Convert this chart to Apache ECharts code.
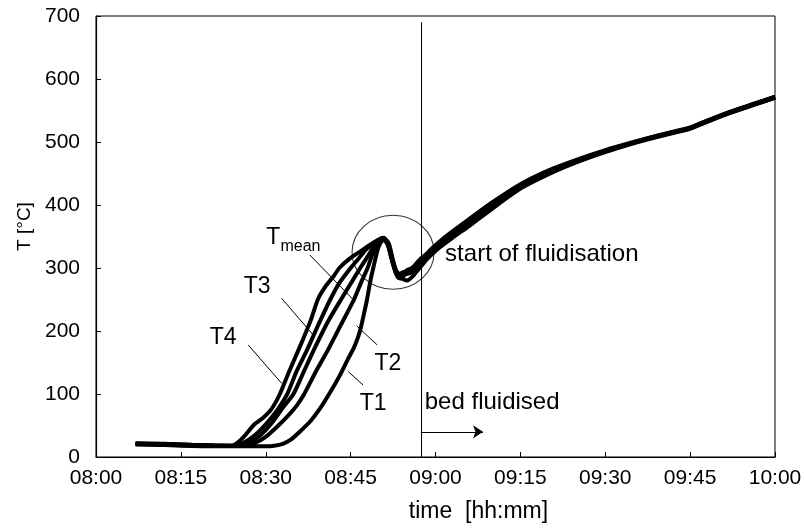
<!DOCTYPE html>
<html>
<head>
<meta charset="utf-8">
<script src="https://cdn.jsdelivr.net/npm/echarts@6/dist/echarts.min.js"></script>
<style>
  html, body { margin: 0; padding: 0; background: #fff; }
  #chart { width: 806px; height: 530px; }
</style>
</head>
<body>
<div id="chart"></div>
<script>
// Bed temperature during heat-up; x values are minutes after 08:00, y values in °C.
const timeLabels = ['08:00', '08:15', '08:30', '08:45', '09:00', '09:15', '09:30', '09:45', '10:00'];

const sensorT4 = [[7,22],[12,21],[17,19.5],[21,18.5],[24,18],[25.2,24],[26.5,36],[28,52],[29.5,62],[31,76],[32.5,100],[34,133],[35.3,160],[36.5,185],[38,218],[39.2,250],[40.5,270],[42,287],[43,300],[45,316],[47,328],[49,340],[50.5,347],[51.5,338],[52.3,312],[53,292],[53.8,283],[54.7,290],[55.6,293],[56.5,302],[57.5,312],[59,328],[61,344],[63,358],[66,378],[70,404],[75,433],[80,455],[85,472],[90,487],[95,500],[100,512],[105,523],[108,534],[112,548],[116,560],[120,572]];
const sensorT3 = [[7,21],[12,20.5],[17,19],[21,18],[24.5,18],[26,22],[28,34],[30,52],[32,74],[33.8,100],[35.5,137],[37.3,170],[39.3,210],[41.4,250],[43,276],[45,300],[46.5,316],[47.8,330],[49.5,342],[50.7,348],[51.5,340],[52.2,318],[53,296],[54,288],[55,297],[56,300],[57,308],[58,318],[60,334],[62,349],[66,375],[70,401],[75,431],[80,453],[85,471],[90,486],[95,499.5],[100,511.5],[105,522.5],[108,533.5],[112,547.5],[116,559.5],[120,571.5]];
const sensorTmean = [[7,21],[12,20],[17,18.5],[21,18],[25.5,18],[27,22],[29,34],[31,53],[33,78],[34.9,100],[36.7,135],[38.5,170],[41,215],[43.3,250],[45,275],[46.7,300],[48,318],[48.8,330],[50,343],[50.9,348],[51.6,338],[52.4,310],[53.3,288],[54.2,293],[55.2,296],[56.2,303],[57.3,314],[59,326],[61,341],[63,354],[66,373],[70,399],[75,430],[80,452],[85,470],[90,486],[95,499],[100,511],[105,522],[108,533],[112,547],[116,559],[120,571]];
const sensorT2 = [[7,20.5],[12,19.5],[17,18],[21,17.5],[26,18],[28,22],[30,32],[32,48],[34,66],[35.5,82],[36.8,100],[39,138],[41,170],[43.3,210],[45.6,250],[46.9,278],[48,300],[48.7,318],[49.3,330],[50.2,342],[51,346],[51.8,335],[52.6,305],[53.4,284],[54.5,290],[55.5,292],[56.5,300],[57.5,310],[59,322],[61,336],[63,350],[66,369],[70,396],[75,427],[80,450],[85,469],[90,485],[95,498.5],[100,510.5],[105,521.5],[108,532.5],[112,546.5],[116,558.5],[120,570.5]];
const sensorT1 = [[7,20],[12,19],[17,17.5],[21,17],[26,17],[30,17],[31.5,18],[33,21],[34.5,28],[36,40],[38,58],[39.6,77],[41.2,100],[43,128],[44.5,155],[45.5,172],[46.3,190],[46.8,205],[47.3,225],[47.9,250],[48.5,280],[49,300],[49.8,330],[50.5,343],[51.2,345],[51.8,338],[52.5,312],[53.2,292],[53.8,285],[55,280],[56,287],[57.2,300],[58.5,314],[60.5,331],[63,348],[66,367],[70,394],[75,426],[80,449],[85,468],[90,484],[95,498],[100,510],[105,521],[108,532],[112,546],[116,558],[120,570]];

// Moment the bed became fluidised (minutes after 08:00) and the marked region.
const fluidisationMinute = 57.4;
const fluidLineTop = 690;
const arrowSpan = [[57.4, 40], [68.4, 40]];
const circleCentre = [52.5, 325];

// Leader lines from each sensor label to its curve.
const leaderLines = [
  [[26.9, 177.8], [32.8, 117]],
  [[32.8, 251.9], [38.4, 193.7]],
  [[37.8, 320.6], [45.8, 246.5]],
  [[46.1, 207.9], [49.7, 177.8]],
  [[44.6, 135.4], [47.2, 114.3]]
];

// Text anchors (left edge, vertical middle) in data coordinates.
const textAnchors = [
  { text: 'T4', at: [20.1, 189], size: 23 },
  { text: 'T3', at: [26.1, 270.6], size: 23 },
  { text: 'T', at: [30.1, 347.6], size: 23 },
  { text: 'mean', at: [32.6, 333.8], size: 16 },
  { text: 'T2', at: [49.2, 148.7], size: 23 },
  { text: 'T1', at: [46.6, 84], size: 23 },
  { text: 'start of fluidisation', at: [61.7, 321.4], size: 24 },
  { text: 'bed fluidised', at: [58.1, 87.3], size: 24 }
];

const FONT = '"Liberation Sans", Arial, Helvetica, sans-serif';
const sensors = [
  { name: 'T4', data: sensorT4 },
  { name: 'T3', data: sensorT3 },
  { name: 'Tmean', data: sensorTmean },
  { name: 'T2', data: sensorT2 },
  { name: 'T1', data: sensorT1 }
];

const chart = echarts.init(document.getElementById('chart'), null, { renderer: 'canvas' });

const lineSeries = sensors.map(s => ({
  name: s.name,
  type: 'line',
  data: s.data,
  showSymbol: false,
  smooth: 0.2,
  lineStyle: { color: '#000', width: 4 },
  silent: true,
  z: 3
}));

const option = {
  animation: false,
  backgroundColor: '#fff',
  grid: {
    left: 96, top: 16, right: 31, bottom: 73,
    show: true, borderColor: '#000', borderWidth: 1, backgroundColor: 'transparent'
  },
  xAxis: {
    type: 'value', min: 0, max: 120, interval: 15,
    name: 'time  [hh:mm]', nameLocation: 'middle', nameGap: 43,
    nameTextStyle: { fontFamily: FONT, fontSize: 23, color: '#000', padding: [0, 0, 0, 86] },
    axisLine: { onZero: false, lineStyle: { color: '#000', width: 1.2 } },
    axisTick: { inside: true, length: 5, lineStyle: { color: '#000' } },
    axisLabel: {
      fontFamily: FONT, fontSize: 21, color: '#000', margin: 11,
      formatter: v => timeLabels[Math.round(v / 15)]
    },
    splitLine: { show: false }
  },
  yAxis: {
    type: 'value', min: 0, max: 700, interval: 100,
    name: 'T [°C]', nameLocation: 'middle', nameGap: 62, nameRotate: 90,
    nameTextStyle: { fontFamily: FONT, fontSize: 19, color: '#000', padding: [0, 0, 0, 20] },
    axisLine: { lineStyle: { color: '#000', width: 1.2 } },
    axisTick: { inside: true, length: 5, lineStyle: { color: '#000' } },
    axisLabel: { fontFamily: FONT, fontSize: 21, color: '#000', margin: 16 },
    splitLine: { show: false }
  },
  series: lineSeries.concat([
    {
      name: 'fluidisation',
      type: 'scatter',
      data: [circleCentre],
      symbol: 'circle',
      symbolSize: [82, 74],
      silent: true,
      itemStyle: { color: 'rgba(0,0,0,0)', borderColor: '#000', borderWidth: 1 },
      z: 2,
      markLine: {
        silent: true,
        symbol: ['none', 'none'],
        label: { show: false },
        lineStyle: { color: '#000', width: 1, type: 'solid' },
        data: [
          [{ coord: [fluidisationMinute, fluidLineTop] }, { coord: [fluidisationMinute, 0] }]
        ].concat(leaderLines.map(l => [{ coord: l[0] }, { coord: l[1] }]))
      }
    },
    {
      name: 'arrow',
      type: 'line',
      data: [],
      silent: true,
      markLine: {
        silent: true,
        symbol: ['none', 'arrow'],
        symbolSize: 10,
        label: { show: false },
        lineStyle: { color: '#000', width: 1, type: 'solid' },
        data: [[{ coord: arrowSpan[0] }, { coord: arrowSpan[1] }]]
      }
    }
  ])
};

chart.setOption(option);

// Place the annotations through the chart's own coordinate system.
const graphics = textAnchors.map(a => {
  const p = chart.convertToPixel({ gridIndex: 0 }, a.at);
  return {
    type: 'text',
    x: p[0], y: p[1],
    silent: true,
    z: 10,
    style: {
      text: a.text,
      fill: '#000',
      font: a.size + 'px ' + FONT,
      textAlign: 'left', textVerticalAlign: 'middle',
      align: 'left', verticalAlign: 'middle'
    }
  };
});
chart.setOption({ graphic: graphics });
</script>
</body>
</html>
